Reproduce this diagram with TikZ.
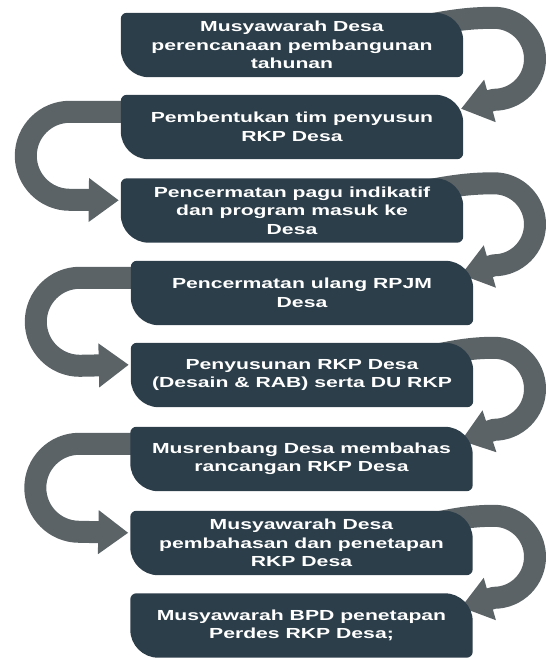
\documentclass[tikz,border=0pt]{standalone}
\usepackage{fontspec}
\setmainfont{Liberation Sans}[FakeStretch=1.45]
\usetikzlibrary{arrows.meta,calc,backgrounds}
\definecolor{cBox}{HTML}{2C3E4A}
\definecolor{cTurn}{HTML}{5B6366}
\tikzset{
  stepbox/.style={align=center, text=white, inner sep=0pt, minimum width=342pt,
    minimum height=64pt, font=\fontsize{14.6}{18.5}\selectfont\bfseries},
  turn/.style={draw=cTurn, line width=22pt, line join=round,
    -{Triangle[length=30pt, width=42pt]}},
}
% leaf shaped box behind a step node
\newcommand\leafbox[1]{%
  \fill[cBox] ([xshift=6pt]#1.north west) -- ([xshift=-28pt]#1.north east)
    arc[start angle=90, end angle=0, radius=28pt] -- ([yshift=6pt]#1.south east)
    arc[start angle=0, end angle=-90, radius=6pt] -- ([xshift=28pt]#1.south west)
    arc[start angle=270, end angle=180, radius=28pt] -- ([yshift=-6pt]#1.north west)
    arc[start angle=180, end angle=90, radius=6pt] -- cycle;}
% curved arrow round the right side
\newcommand\turnright[2]{%
  \draw[turn] let \p1=(#1.north east), \p2=(#2.north east) in
    (\x1-70pt, \y1-18pt) to[out=8, in=180] (494pt, \y1-5pt)
    arc[start angle=90, end angle=-90, radius=41pt] -- (461pt, \y2-14pt);}
% curved arrow round the left side
\newcommand\turnleft[2]{%
  \draw[turn] let \p1=(#1.north west), \p2=(#2.north west) in
    (\x1+20pt, \y1-17pt) -- (\x1-51pt, \y1-17pt)
    arc[start angle=90, end angle=270, radius=44pt] -- (\x2-2pt, \y2-22pt);}

\begin{document}
\begin{tikzpicture}[x=1pt, y=1pt]
  \useasboundingbox (0,0) rectangle (548,659);
  % steps, top to bottom
  \node[stepbox] (s1) at (292,614) {Musyawarah Desa\\perencanaan pembangunan\\tahunan};
  \node[stepbox] (s2) at (292,532) {Pembentukan tim penyusun\\RKP Desa};
  \node[stepbox] (s3) at (292,448.5) {Pencermatan pagu indikatif\\dan program masuk ke\\Desa};
  \node[stepbox] (s4) at (302,366) {Pencermatan ulang RPJM\\Desa};
  \node[stepbox] (s5) at (302,284) {Penyusunan RKP Desa\\(Desain \& RAB) serta DU RKP};
  \node[stepbox] (s6) at (301.5,200) {Musrenbang Desa membahas\\rancangan RKP Desa};
  \node[stepbox] (s7) at (301.5,116) {Musyawarah Desa\\pembahasan dan penetapan\\RKP Desa};
  \node[stepbox] (s8) at (301.5,33.5) {Musyawarah BPD penetapan\\Perdes RKP Desa;};
  \begin{scope}[on background layer]
    % turning arrows, alternating sides
    \turnright{s1}{s2}
    \turnleft{s2}{s3}
    \turnright{s3}{s4}
    \turnleft{s4}{s5}
    \turnright{s5}{s6}
    \turnleft{s6}{s7}
    \turnright{s7}{s8}
    % boxes over the arrows
    \foreach \i in {1,...,8} {\leafbox{s\i}}
  \end{scope}
\end{tikzpicture}
\end{document}
